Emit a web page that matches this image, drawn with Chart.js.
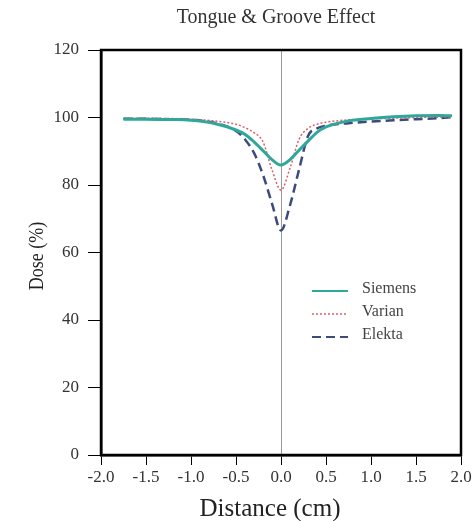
<!DOCTYPE html>
<html>
<head>
<meta charset="utf-8">
<script src="https://cdn.jsdelivr.net/npm/chart.js@4.4.1/dist/chart.umd.min.js"></script>
<style>
  html, body { margin: 0; padding: 0; background: #fff; }
  #wrap { width: 476px; height: 521px; position: relative; }
</style>
</head>
<body>
<div id="wrap"><canvas id="tgChart"></canvas></div>
<script>
// data
const distance = [-1.75, -1.5, -1.25, -1.0, -0.75, -0.5, -0.4, -0.3, -0.2, -0.1, 0, 0.1, 0.2, 0.3, 0.4, 0.5, 0.75, 1.0, 1.25, 1.5, 1.75, 1.9];
const siemens = [99.5, 99.5, 99.4, 99.2, 98.3, 96.3, 95.0, 92.8, 90.2, 87.5, 85.9, 87.5, 90.3, 93.0, 95.6, 97.2, 99.0, 99.7, 100.2, 100.5, 100.6, 100.5];
const varian  = [99.8, 99.8, 99.7, 99.5, 99.0, 98.0, 97.0, 95.5, 92.8, 84.5, 78.5, 85.0, 93.5, 96.8, 98.0, 98.6, 99.3, 99.6, 99.8, 100.0, 100.1, 100.2];
const elekta  = [99.6, 99.6, 99.5, 99.3, 98.5, 96.0, 93.5, 89.5, 83.0, 74.5, 66.5, 74.0, 84.5, 94.5, 96.8, 97.6, 98.3, 98.8, 99.2, 99.5, 99.8, 100.1];
const xTicks = [-2.0, -1.5, -1.0, -0.5, 0.0, 0.5, 1.0, 1.5, 2.0];
const yTicks = [0, 20, 40, 60, 80, 100, 120];

const serif = "'Liberation Serif', 'DejaVu Serif', serif";

function pts(ys) {
    return distance.map((x, i) => ({ x: x, y: ys[i] }));
}

// frame, titles and the legend inside the plot
const decorPlugin = {
    id: 'decor',
    afterDraw(chart) {
        const ctx = chart.ctx;
        const a = chart.chartArea;
        ctx.save();
        ctx.strokeStyle = '#000';
        ctx.lineWidth = 2.5;
        ctx.strokeRect(a.left, a.top, a.right - a.left, a.bottom - a.top);

        // chart title
        ctx.fillStyle = '#333';
        ctx.font = '20px ' + serif;
        ctx.textAlign = 'center';
        ctx.textBaseline = 'alphabetic';
        ctx.fillText('Tongue & Groove Effect', 276, 23);

        // axis titles
        ctx.fillStyle = '#222';
        ctx.font = '25px ' + serif;
        ctx.fillText('Distance (cm)', 270, 516);

        ctx.save();
        ctx.translate(37, 256);
        ctx.rotate(-Math.PI / 2);
        ctx.scale(1, 1.2);
        ctx.font = '18px ' + serif;
        ctx.textBaseline = 'middle';
        ctx.fillText('Dose (%)', 0, 0);
        ctx.restore();

        // legend
        const items = chart.data.datasets;
        const lx = a.left + 211, ly = a.top + 239;
        ctx.font = '16px ' + serif;
        ctx.textAlign = 'left';
        ctx.textBaseline = 'middle';
        items.forEach((ds, i) => {
            const y = ly + i * 23;
            ctx.strokeStyle = ds.borderColor;
            ctx.lineWidth = Math.min(ds.borderWidth, 2);
            ctx.setLineDash(ds.borderDash || []);
            ctx.beginPath();
            ctx.moveTo(lx, y + 2);
            ctx.lineTo(lx + 36, y + 2);
            ctx.stroke();
            ctx.setLineDash([]);
            ctx.fillStyle = '#444';
            ctx.fillText(ds.label, lx + 50, y);
        });
        ctx.restore();
    }
};

new Chart('tgChart', {
    type: 'line',
    data: {
        datasets: [{
            label: 'Siemens',
            data: pts(siemens),
            borderColor: '#2fa89a',
            borderWidth: 3,
            pointRadius: 0,
            cubicInterpolationMode: 'monotone'
        }, {
            label: 'Varian',
            data: pts(varian),
            borderColor: '#d8606e',
            borderWidth: 1.5,
            borderDash: [2, 2],
            pointRadius: 0,
            cubicInterpolationMode: 'monotone'
        }, {
            label: 'Elekta',
            data: pts(elekta),
            borderColor: '#3d4a7e',
            borderWidth: 2.5,
            borderDash: [9, 5],
            pointRadius: 0,
            cubicInterpolationMode: 'monotone'
        }]
    },
    options: {
        responsive: true,
        maintainAspectRatio: false,
        animation: false,
        layout: { padding: { left: 0, right: 15, top: 50, bottom: 0 } },
        plugins: {
            legend: { display: false },
            title: { display: false },
            tooltip: { enabled: false }
        },
        scales: {
            x: {
                type: 'linear',
                min: -2,
                max: 2,
                afterBuildTicks: scale => { scale.ticks = xTicks.map(v => ({ value: v })); },
                afterFit: scale => { scale.height = 66; },
                ticks: {
                    color: '#333',
                    font: { family: serif, size: 17 },
                    padding: 2,
                    maxRotation: 0,
                    callback: v => v.toFixed(1)
                },
                grid: {
                    color: c => (c.tick && c.tick.value === 0) ? '#9a9a9a' : 'transparent',
                    lineWidth: 1,
                    tickColor: '#000',
                    tickLength: 10
                },
                border: { display: true, color: '#000', width: 2.5 }
            },
            y: {
                min: 0,
                max: 120,
                afterBuildTicks: scale => { scale.ticks = yTicks.map(v => ({ value: v })); },
                afterFit: scale => { scale.width = 101; },
                ticks: {
                    color: '#333',
                    font: { family: serif, size: 17 },
                    padding: 9
                },
                grid: {
                    color: 'transparent',
                    tickColor: '#000',
                    tickLength: 13
                },
                border: { display: true, color: '#000', width: 2.5 }
            }
        }
    },
    plugins: [decorPlugin]
});
</script>
</body>
</html>
